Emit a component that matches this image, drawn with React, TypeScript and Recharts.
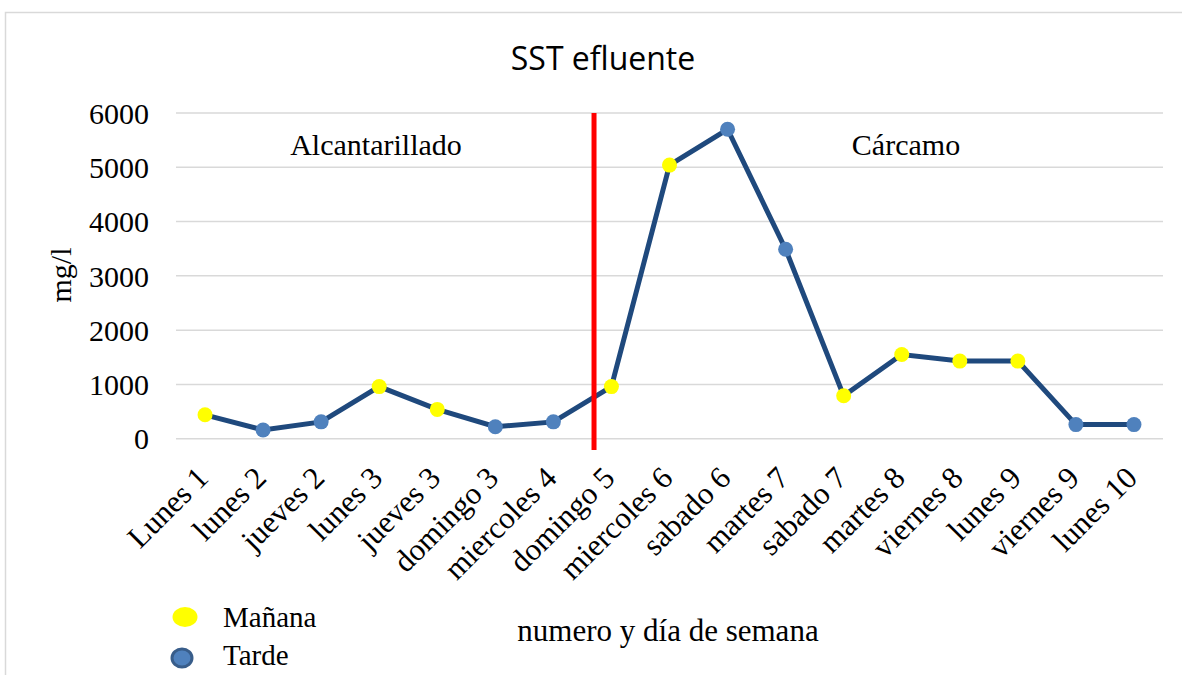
import React from 'react'
import { CartesianGrid, Line, LineChart, ReferenceLine, XAxis, YAxis } from 'recharts'

const dias = ['Lunes 1', 'lunes 2', 'jueves 2', 'lunes 3', 'jueves 3', 'domingo 3', 'miercoles 4', 'domingo 5', 'miercoles 6', 'sabado 6', 'martes 7', 'sabado 7', 'martes 8', 'viernes 8', 'lunes 9', 'viernes 9', 'lunes 10']
const sst = [440, 160, 310, 960, 540, 220, 310, 960, 5040, 5700, 3490, 790, 1550, 1430, 1430, 260, 260]
const periodo = ['Mañana', 'Tarde', 'Tarde', 'Mañana', 'Mañana', 'Tarde', 'Tarde', 'Mañana', 'Mañana', 'Tarde', 'Tarde', 'Mañana', 'Mañana', 'Mañana', 'Mañana', 'Tarde', 'Tarde']
const yTicks = [0, 1000, 2000, 3000, 4000, 5000, 6000]
// cambio de Alcantarillado a Cárcamo (entre miercoles 4 y domingo 5)
const corte = 6.7

const serif = 'Liberation Serif, Times New Roman, serif'
const colorLinea = '#1F497D'
const amarillo = '#FFFF00'
const azul = '#4F81BD'

const data = dias.map((d, i) => ({ x: i, dia: d, valor: sst[i], periodo: periodo[i] }))

const DiaTick = (props: any) => {
    const { x, y, payload } = props
    const ax = x + 5
    const ay = y + 41
    return (
        <text x={ax} y={ay} transform={`rotate(-45, ${ax}, ${ay})`} textAnchor='end' fontSize={31} fontFamily={serif} fill='#000'>
            {dias[payload.value]}
        </text>
    )
}

const Punto = (props: any) => {
    const { cx, cy, index } = props
    if (cx == null || cy == null) return null
    return <circle key={index} cx={cx} cy={cy} r={7.5} fill={periodo[index] === 'Mañana' ? amarillo : azul} stroke='none' />
}

const App = () => {
    return (
        <div style={{ position: 'absolute', left: 0, top: 0, width: 1182, height: 675, background: '#fff' }}>
            <LineChart width={1182} height={675} data={data} margin={{ top: 113, right: 19, bottom: 206.3, left: 0 }}>
                <CartesianGrid vertical={false} stroke='#D9D9D9' strokeWidth={1.5} />
                <XAxis type='number' dataKey='x' domain={[-0.5, 16.5]} ticks={dias.map((_, i) => i)} interval={0} axisLine={false} tickLine={false} tickSize={0} tickMargin={0} height={30} tick={<DiaTick />} />
                <YAxis type='number' domain={[0, 6000]} ticks={yTicks} width={176} axisLine={false} tickLine={false} tickSize={0} tickMargin={27} tick={{ fontSize: 30, fontFamily: serif, fill: '#000' }} />
                <Line type='linear' dataKey='valor' stroke={colorLinea} strokeWidth={5} dot={<Punto />} activeDot={false} isAnimationActive={false} />
                <ReferenceLine segment={[{ x: corte, y: -210 }, { x: corte, y: 6000 }]} stroke='#FF0000' strokeWidth={5} ifOverflow='visible' />
            </LineChart>
            <svg width={1182} height={675} style={{ position: 'absolute', left: 0, top: 0, pointerEvents: 'none' }}>
                <rect x={5.5} y={12.5} width={1200} height={700} fill='none' stroke='#D9D9D9' strokeWidth={1.5} />
                <text x={603} y={70} textAnchor='middle' fontSize={32} fontFamily='Open Sans, sans-serif' fill='#000'>SST efluente</text>
                <text x={376} y={155} textAnchor='middle' fontSize={30} fontFamily={serif} fill='#000'>Alcantarillado</text>
                <text x={906} y={155} textAnchor='middle' fontSize={30} fontFamily={serif} fill='#000'>Cárcamo</text>
                <text x={71} y={275} transform='rotate(-90, 71, 275)' textAnchor='middle' fontSize={30} fontFamily={serif} fill='#000'>mg/l</text>
                <text x={668} y={641} textAnchor='middle' fontSize={31} fontFamily={serif} fill='#000'>numero y día de semana</text>
                <ellipse cx={185} cy={617} rx={12.5} ry={10} fill={amarillo} />
                <text x={223} y={627} fontSize={29} fontFamily={serif} fill='#000'>Mañana</text>
                <ellipse cx={182} cy={658} rx={10} ry={9} fill={azul} stroke='#385D8A' strokeWidth={3} />
                <text x={223} y={665} fontSize={29} fontFamily={serif} fill='#000'>Tarde</text>
            </svg>
        </div>
    )
}

export default App
